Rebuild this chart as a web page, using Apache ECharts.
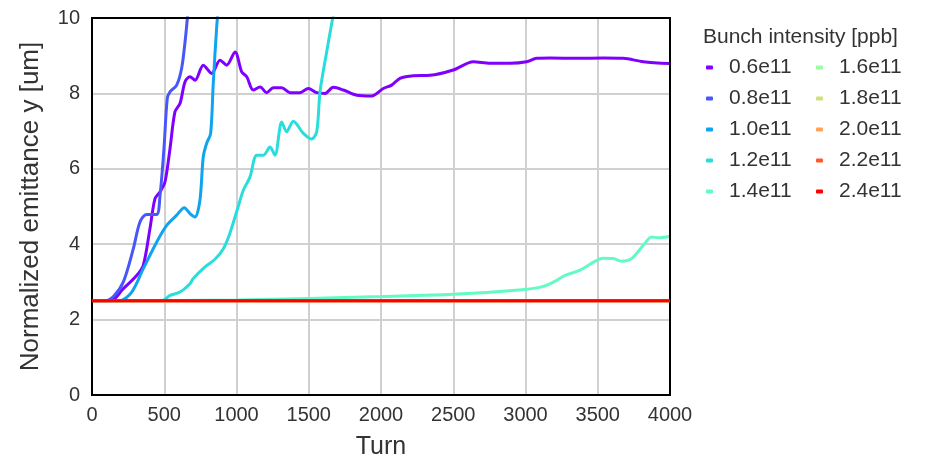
<!DOCTYPE html>
<html>
<head>
<meta charset="utf-8">
<script src="https://cdn.jsdelivr.net/npm/echarts@6/dist/echarts.min.js"></script>
<style>
html,body{margin:0;padding:0;background:#fff;}
#chart{width:926px;height:466px;}
</style>
</head>
<body>
<div id="chart"></div>
<script>
// ---- data ----
const seriesNames = ['0.6e11','0.8e11','1.0e11','1.2e11','1.4e11','1.6e11','1.8e11','2.0e11','2.2e11','2.4e11'];
const seriesColors = ['#8000ff','#4757fb','#0ea4f0','#2adddd','#63fbc3','#9cfba4','#d4dd80','#ffa457','#ff572c','#ff0000'];
const xTicks = [0,500,1000,1500,2000,2500,3000,3500,4000];
const yTicks = [0,2,4,6,8,10];

const turns06 = [0,130,217,309,355,401,436,471,505,540,574,609,644,678,713,770,828,886,932,990,1036,1071,1116,1163,1209,1255,1313,1370,1439,1497,1555,1612,1670,1739,1832,1935,2016,2074,2131,2224,2339,2500,2639,2754,2893,3008,3077,3170,3354,3538,3677,3815,4000];
const emit06  = [2.5,2.5,2.82,3.17,3.44,4.41,5.21,5.39,5.65,6.54,7.51,7.73,8.31,8.44,8.35,8.75,8.53,8.88,8.75,9.10,8.57,8.44,8.09,8.17,8.02,8.15,8.15,8.02,8.02,8.13,8.02,8.0,8.16,8.09,7.95,7.93,8.13,8.22,8.40,8.47,8.48,8.62,8.84,8.80,8.80,8.84,8.93,8.94,8.93,8.94,8.93,8.84,8.79];

const turns08 = [0,90,150,217,286,332,378,447,471,498,521,540,586,620,644,662,690];
const emit08  = [2.5,2.5,2.62,3.0,3.88,4.59,4.79,4.79,5.3,6.54,7.87,8.04,8.22,8.66,9.37,10.08,11.2];

const turns10 = [0,190,275,355,448,517,586,639,678,713,747,770,793,821,839,863,880];
const emit10  = [2.5,2.5,2.73,3.35,4.06,4.50,4.77,4.97,4.81,4.72,5.17,6.32,6.67,6.94,8.26,9.77,10.5];

const turns12 = [0,480,540,609,678,701,782,851,909,955,1012,1047,1093,1140,1186,1232,1266,1313,1347,1393,1463,1520,1555,1578,1624,1670,1700];
const emit12  = [2.5,2.5,2.64,2.73,2.95,3.09,3.40,3.6,3.88,4.3,5.0,5.43,5.78,6.36,6.36,6.58,6.36,7.24,6.98,7.26,6.94,6.79,6.98,8.04,9.10,10.08,10.6];

const turns14 = [0,1000,1500,2000,2500,2997,3123,3216,3262,3308,3377,3493,3538,3607,3665,3735,3815,3873,3920,4000];
const emit14  = [2.5,2.52,2.56,2.61,2.67,2.80,2.88,3.04,3.15,3.22,3.31,3.57,3.63,3.62,3.55,3.62,3.97,4.19,4.17,4.21];

const turnsFlat = [0,4000];
const emit16 = [2.5,2.5];
const emit18 = [2.5,2.5];
const emit20 = [2.5,2.5];
const emit22 = [2.5,2.5];
const emit24 = [2.5,2.5];

const seriesTurns = [turns06,turns08,turns10,turns12,turns14,turnsFlat,turnsFlat,turnsFlat,turnsFlat,turnsFlat];
const seriesEmit  = [emit06,emit08,emit10,emit12,emit14,emit16,emit18,emit20,emit22,emit24];

// ---- chart ----
const FONT = 'Liberation Sans, Arial, sans-serif';
const chart = echarts.init(document.getElementById('chart'), null, {renderer:'canvas'});

const series = seriesNames.map((name,i)=>({
  name: name,
  type: 'line',
  data: seriesTurns[i].map((t,k)=>[t, seriesEmit[i][k]]),
  showSymbol: false,
  symbol: 'none',
  smooth: 0.3,
  clip: true,
  color: seriesColors[i],
  lineStyle: {width: 3, color: seriesColors[i]},
  z: 2 + i
}));

const legendCommon = {
  orient: 'vertical',
  padding: 0,
  itemGap: 10,
  itemWidth: 7,
  itemHeight: 4,
  icon: 'roundRect',
  textStyle: {fontFamily: FONT, fontSize: 21, color: '#333', padding: [0,0,0,11]}
};

chart.setOption({
  animation: false,
  backgroundColor: '#fff',
  title: {
    text: 'Bunch intensity [ppb]',
    left: 703, top: 27, padding: 0,
    textStyle: {fontFamily: FONT, fontSize: 21, fontWeight: 'normal', color: '#333'}
  },
  legend: [
    Object.assign({}, legendCommon, {left: 706, top: 57, data: seriesNames.slice(0,5)}),
    Object.assign({}, legendCommon, {left: 816, top: 57, data: seriesNames.slice(5)})
  ],
  grid: {
    left: 92, right: 256, top: 18, bottom: 71,
    show: true, borderColor: '#000', borderWidth: 2, backgroundColor: 'transparent', z: 10
  },
  xAxis: {
    type: 'value', min: xTicks[0], max: xTicks[xTicks.length-1], interval: 500,
    name: 'Turn', nameLocation: 'middle', nameGap: 40,
    nameTextStyle: {fontFamily: FONT, fontSize: 25, color: '#333'},
    axisLine: {show: false}, axisTick: {show: false},
    axisLabel: {fontFamily: FONT, fontSize: 20, color: '#333', margin: 10, formatter: v => String(v)},
    splitLine: {show: true, showMinLine: false, showMaxLine: false, lineStyle: {color: '#d0d0d0', width: 2}}
  },
  yAxis: {
    type: 'value', min: yTicks[0], max: yTicks[yTicks.length-1], interval: 2,
    name: 'Normalized emittance y [um]', nameLocation: 'middle', nameGap: 48,
    nameTextStyle: {fontFamily: FONT, fontSize: 26, color: '#333'},
    axisLine: {show: false}, axisTick: {show: false},
    axisLabel: {fontFamily: FONT, fontSize: 20, color: '#333', margin: 12, formatter: v => String(v)},
    splitLine: {show: true, showMinLine: false, showMaxLine: false, lineStyle: {color: '#d0d0d0', width: 2}}
  },
  series: series
});
</script>
</body>
</html>
